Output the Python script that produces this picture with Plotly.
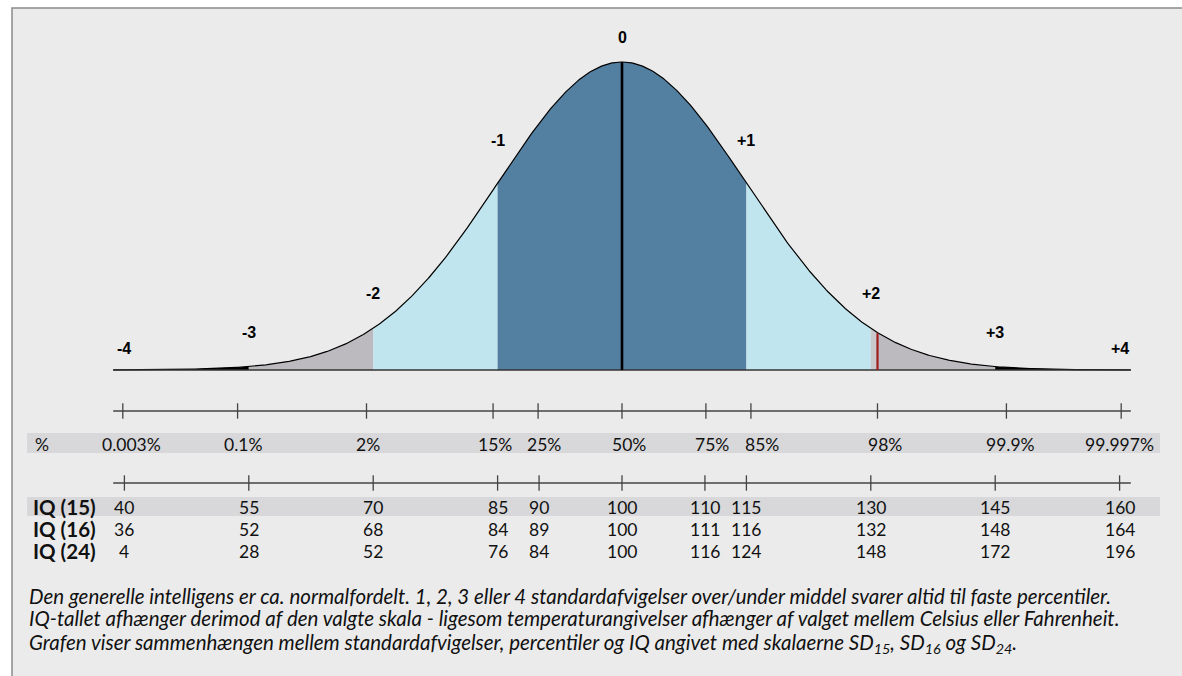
import numpy as np
import plotly.graph_objects as go
from statistics import NormalDist

# ---------------- data ----------------
sd_labels = ["-4", "-3", "-2", "-1", "0", "+1", "+2", "+3", "+4"]
sd_values = [-4, -3, -2, -1, 0, 1, 2, 3, 4]

# shaded regions under the curve (in SD units)
region_bounds = [(-4.09, -3), (-3, -2), (-2, -1), (-1, 1), (1, 2), (2, 2.054), (2.054, 3), (3, 4.09)]
region_colors = ["#000000", "#bcbabf", "#c1e5ee", "#537fa1", "#c1e5ee", "#c9c8cc", "#bcbabf", "#000000"]

percentiles = [0.003, 0.1, 2, 15, 25, 50, 75, 85, 98, 99.9, 99.997]
percent_labels = ["0.003%", "0.1%", "2%", "15%", "25%", "50%", "75%", "85%", "98%", "99.9%", "99.997%"]

iq15 = [40, 55, 70, 85, 90, 100, 110, 115, 130, 145, 160]
iq16 = [36, 52, 68, 84, 89, 100, 111, 116, 132, 148, 164]
iq24 = [4, 28, 52, 76, 84, 100, 116, 124, 148, 172, 196]
iq_row_labels = ["IQ (15)", "IQ (16)", "IQ (24)"]

marker_percentile = 98  # red line

caption_lines = [
    "Den generelle intelligens er ca. normalfordelt. 1, 2, 3 eller 4 standardafvigelser over/under middel svarer altid til faste percentiler.",
    "IQ-tallet afhænger derimod af den valgte skala - ligesom temperaturangivelser afhænger af valget mellem Celsius eller Fahrenheit.",
    "Grafen viser sammenhængen mellem standardafvigelser, percentiler og IQ angivet med skalaerne SD<sub>15</sub>, SD<sub>16</sub> og SD<sub>24</sub>.",
]

# ---------------- layout geometry ----------------
W, H = 1182, 676
CX, SDPX = 622, 124.4          # pixel of mean, pixels per SD
BASE, PEAK = 370, 62           # baseline / peak pixel rows
ZMAX = 4.09

nd = NormalDist()


def pdf(x):
    x = np.asarray(x, dtype=float)
    return np.exp(-x ** 2 / 2) / np.sqrt(2 * np.pi)


ysc = (BASE - PEAK) / nd.pdf(0)


def py(p):
    return (BASE - p) / ysc


xr = [-CX / SDPX, (W - CX) / SDPX]
yr = [py(H), py(0)]

fig = go.Figure()

# filled regions
for (a, b), col in zip(region_bounds, region_colors):
    xs = np.linspace(a, b, 120)
    ys = pdf(xs)
    fig.add_trace(go.Scatter(
        x=[a] + list(xs) + [b], y=[0] + list(ys) + [0],
        fill="toself", fillcolor=col, mode="lines", line=dict(width=0),
        hoverinfo="skip"))

# curve outline
xs = np.linspace(-ZMAX, ZMAX, 800)
fig.add_trace(go.Scatter(x=xs, y=pdf(xs), mode="lines",
                         line=dict(color="#000000", width=1.2), hoverinfo="skip"))
# baseline
fig.add_trace(go.Scatter(x=[-ZMAX, ZMAX], y=[0, 0], mode="lines",
                         line=dict(color="#333333", width=1.6), hoverinfo="skip"))
# mean line
fig.add_trace(go.Scatter(x=[0, 0], y=[0, nd.pdf(0)], mode="lines",
                         line=dict(color="#000000", width=2.6), hoverinfo="skip"))
# red percentile line
zr = nd.inv_cdf(marker_percentile / 100)
fig.add_trace(go.Scatter(x=[zr, zr], y=[0, nd.pdf(zr) * 0.985], mode="lines",
                         line=dict(color="#9e1b1f", width=2.2), hoverinfo="skip"))

# percent axis and IQ axis (lines with crossing ticks)
pct_z = [nd.inv_cdf(p / 100) for p in percentiles]
iq_z = [(v - 100) / 15 for v in iq15]
for level, ticks in [(411, pct_z), (483, iq_z)]:
    fig.add_trace(go.Scatter(x=[-ZMAX, ZMAX], y=[py(level)] * 2, mode="lines",
                             line=dict(color="#444444", width=1.3), hoverinfo="skip"))
    fig.add_trace(go.Scatter(x=ticks, y=[py(level)] * len(ticks), mode="markers",
                             marker=dict(symbol="line-ns", size=11,
                                         line=dict(color="#444444", width=1.3)),
                             hoverinfo="skip"))

shapes = [
    dict(type="rect", xref="paper", yref="paper", x0=12 / W, x1=1.05, y0=-0.05, y1=1 - 8 / H,
         fillcolor="#ebebeb", line=dict(color="#8a8a8a", width=1.5), layer="below"),
    dict(type="rect", xref="paper", yref="paper", x0=27 / W, x1=1160 / W,
         y0=1 - 453 / H, y1=1 - 433 / H, fillcolor="#d8d8da", line=dict(width=0), layer="below"),
    dict(type="rect", xref="paper", yref="paper", x0=27 / W, x1=1160 / W,
         y0=1 - 516 / H, y1=1 - 497 / H, fillcolor="#d8d8da", line=dict(width=0), layer="below"),
]

ann = []
sd_yshift = [21, 34, 35, 43, 25, 43, 35, 34, 21]
for lab, z, sh in zip(sd_labels, sd_values, sd_yshift):
    ann.append(dict(x=z, y=float(pdf(z)), text=lab, showarrow=False, yshift=sh,
                    xanchor="center", yanchor="middle",
                    font=dict(family="Liberation Sans, Arial", size=16, color="#000000", weight="bold")))

TF = "Lato, Open Sans, sans-serif"
pct_xshift = [9, 5, 1, 2, 6, 7, 6, 11, 8, 4, -2]
for lab, z, sh in zip(percent_labels, pct_z, pct_xshift):
    ann.append(dict(x=z, y=py(444), text=lab, showarrow=False, xshift=sh,
                    xanchor="center", yanchor="middle",
                    font=dict(family=TF, size=17.5, color="#111111")))
ann.append(dict(x=33 / W, xref="paper", y=py(444), text="%", showarrow=False,
                xanchor="left", yanchor="middle", font=dict(family=TF, size=17.5, color="#111111")))

for row_y, vals, lab in zip([507, 529, 551], [iq15, iq16, iq24], iq_row_labels):
    for z, v in zip(iq_z, vals):
        ann.append(dict(x=z, y=py(row_y), text=str(v), showarrow=False,
                        xanchor="center", yanchor="middle",
                        font=dict(family=TF, size=17.5, color="#111111")))
    ann.append(dict(x=31 / W, xref="paper", y=py(row_y), text="<b>" + lab + "</b>", showarrow=False,
                    xanchor="left", yanchor="middle", font=dict(family=TF, size=20.5, color="#111111")))

for cy, line in zip([596, 618, 643], caption_lines):
    ann.append(dict(x=27 / W, xref="paper", y=py(cy), text=line, showarrow=False,
                    xanchor="left", yanchor="middle",
                    font=dict(family=TF, size=20.5, color="#111111", style="italic")))

fig.update_layout(
    width=W, height=H, margin=dict(l=0, r=0, t=0, b=0),
    paper_bgcolor="#ffffff", plot_bgcolor="#ffffff",
    showlegend=False, hovermode=False,
    xaxis=dict(range=xr, visible=False, fixedrange=True),
    yaxis=dict(range=yr, visible=False, fixedrange=True),
    shapes=shapes, annotations=ann,
)

fig.write_html("out.html", config={"displayModeBar": False, "staticPlot": True},
               post_script="document.body.style.margin='0px';document.body.style.overflow='hidden';")
